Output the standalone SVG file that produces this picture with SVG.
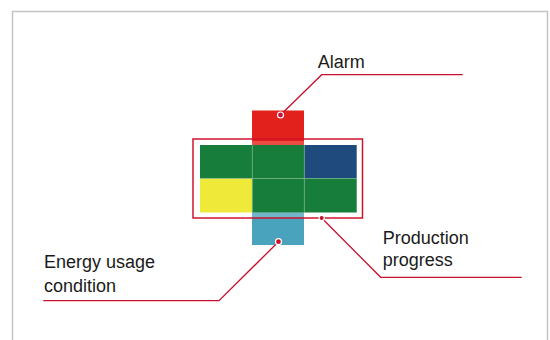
<svg xmlns="http://www.w3.org/2000/svg" width="550" height="340" viewBox="0 0 550 340">
<style>
.lead{fill:none;stroke:#c8102e;stroke-width:1.3}
.lbl{font-family:"Liberation Sans",Arial,sans-serif;font-size:18px;fill:#1a1a1a}
.cell{stroke:none}
.gl{stroke:#7fb58a;stroke-width:1;opacity:0.6}
.dot{fill:#c8102e;stroke:#ffffff;stroke-width:1.2}
</style>
<rect x="0" y="0" width="550" height="340" fill="#ffffff"/>
<g id="frame">
<path d="M12.5 345 V11.5 H547.5 V345" fill="none" stroke="#c4c4c4" stroke-width="1.5"/>
</g>
<g id="alarm">
<rect x="252" y="110.5" width="52" height="35" fill="#e3211c"/>
<rect x="252" y="141" width="52" height="4" fill="#ec6a5e" opacity="0.6"/>
</g>
<g id="energy">
<rect x="252" y="212.5" width="52" height="32.5" fill="#4aa3bd"/>
<rect x="252" y="212.5" width="52" height="5" fill="#8cc4d5" opacity="0.6"/>
</g>
<g id="production">
<rect class="cell" x="200" y="145" width="52.3" height="33.5" fill="#177d3a"/>
<rect class="cell" x="252.3" y="145" width="52" height="33.5" fill="#177d3a"/>
<rect class="cell" x="304.3" y="145" width="52.4" height="33.5" fill="#1f4a7e"/>
<rect class="cell" x="200" y="178.5" width="52.3" height="34" fill="#efe93a"/>
<rect class="cell" x="252.3" y="178.5" width="52" height="34" fill="#177d3a"/>
<rect class="cell" x="304.3" y="178.5" width="52.4" height="34" fill="#177d3a"/>
<line class="gl" x1="252.3" y1="145" x2="252.3" y2="212.5"/>
<line class="gl" x1="304.3" y1="145" x2="304.3" y2="212.5"/>
<line class="gl" x1="200" y1="178.5" x2="356.7" y2="178.5"/>
<rect x="193" y="139" width="169.5" height="79" fill="none" stroke="#d0132c" stroke-width="1.5"/>
</g>
<g id="connectors">
<polyline class="lead" points="280.5,115 321.7,74.7 462.7,74.7"/>
<polyline class="lead" points="321.7,218 380.7,277.3 521.7,277.3"/>
<polyline class="lead" points="278.5,241.7 219,300.7 43.3,300.7"/>
<circle class="dot" cx="280.5" cy="115" r="3"/>
<circle class="dot" cx="321.7" cy="218" r="2.6"/>
<circle class="dot" cx="278.5" cy="241.7" r="3"/>
</g>
<g id="labels">
<text class="lbl" x="317.7" y="68">Alarm</text>
<text class="lbl" x="382.7" y="244.3">Production</text>
<text class="lbl" x="382.7" y="265.5">progress</text>
<text class="lbl" x="44" y="268.3">Energy usage</text>
<text class="lbl" x="44" y="291.7">condition</text>
</g>
</svg>
